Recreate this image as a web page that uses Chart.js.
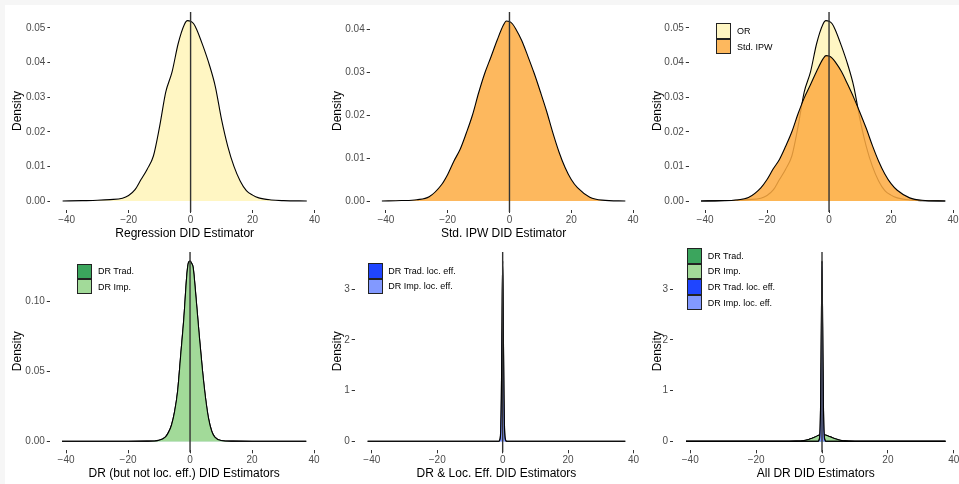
<!DOCTYPE html>
<html>
<head>
<meta charset="utf-8">
<script src="https://cdn.jsdelivr.net/npm/chart.js@4.4.1/dist/chart.umd.min.js"></script>
<style>
  html, body { margin: 0; padding: 0; }
  body { width: 959px; height: 484px; position: relative; overflow: hidden; background: #fff;
         font-family: "Liberation Sans", Arial, sans-serif; }
  .band-top { position: absolute; left: 0; top: 0; width: 959px; height: 5px; background: #f6f6f6; }
  .band-left { position: absolute; left: 0; top: 0; width: 5px; height: 484px; background: #f6f6f6; }
  canvas { position: absolute; }
  .legend { position: absolute; font-size: 9px; color: #000; }
  .legend .row { display: flex; align-items: center; }
  .legend .key { width: 15px; box-sizing: border-box; border: 1px solid #222; }
</style>
</head>
<body>
<div class="band-top"></div>
<div class="band-left"></div>

<script>
// x positions of the tick labels on every panel
const xTicks = [-40, -20, 0, 20, 40];

// regression (OR) DID estimator density
const orX = [-41.3, -35, -30, -26, -22, -20, -18, -16, -14, -12, -10, -8, -6, -4, -2, -1, 0, 1, 2, 4, 6, 8, 10, 12, 14, 16, 18, 20, 22, 26, 30, 37.5];
const orY = [0, 0.0001, 0.0002, 0.0004, 0.0008, 0.0016, 0.0032, 0.0062, 0.0092, 0.0130, 0.0215, 0.0315, 0.0372, 0.0455, 0.0510, 0.0521, 0.0519, 0.0512, 0.0495, 0.0448, 0.0395, 0.0330, 0.0235, 0.0158, 0.0100, 0.0058, 0.0030, 0.0017, 0.0009, 0.0003, 0.0001, 0];

// standardized IPW DID estimator density
const ipwX = orX;
const ipwY = [0, 0.0001, 0.0003, 0.0010, 0.0038, 0.0062, 0.0093, 0.0120, 0.0158, 0.0200, 0.0252, 0.0298, 0.0336, 0.0375, 0.0410, 0.0420, 0.0419, 0.0413, 0.0402, 0.0374, 0.0337, 0.0298, 0.0255, 0.0210, 0.0160, 0.0115, 0.0078, 0.0050, 0.0031, 0.0009, 0.0002, 0];

// DR (traditional / improved) densities
const drX = [-41.3, -30, -20, -14, -10, -8, -7, -6, -5, -4, -3, -2, -1, -0.5, 0, 0.5, 1, 2, 3, 4, 5, 6, 7, 8, 10, 14, 20, 30, 37.5];
const drTradY = [0, 0, 0, 0.0001, 0.0008, 0.0030, 0.0062, 0.0115, 0.0210, 0.0360, 0.0620, 0.0880, 0.1200, 0.1280, 0.1290, 0.1275, 0.1245, 0.1010, 0.0750, 0.0510, 0.0310, 0.0160, 0.0072, 0.0030, 0.0006, 0.0001, 0, 0, 0];
const drImpY = [0, 0, 0, 0.0001, 0.0008, 0.0030, 0.0062, 0.0115, 0.0210, 0.0360, 0.0620, 0.0880, 0.1200, 0.1280, 0.1290, 0.1275, 0.1245, 0.1010, 0.0750, 0.0510, 0.0310, 0.0160, 0.0072, 0.0030, 0.0006, 0.0001, 0, 0, 0];

// DR locally efficient densities
const locX = [-41.3, -30, -20, -10, -3, -1.2, -0.9, -0.6, -0.4, -0.2, 0, 0.2, 0.4, 0.6, 0.9, 1.2, 3, 10, 20, 30, 37.5];
const locTradY = [0, 0, 0, 0, 0, 0, 0.03, 0.22, 0.9, 2.3, 3.56, 2.3, 0.9, 0.22, 0.03, 0, 0, 0, 0, 0, 0];
const locImpY = [0, 0, 0, 0, 0, 0, 0.02, 0.18, 0.85, 2.25, 3.55, 2.25, 0.85, 0.18, 0.02, 0, 0, 0, 0, 0, 0];

// y tick labels
const yTicksA = [0, 0.01, 0.02, 0.03, 0.04, 0.05];
const yTicksB = [0, 0.01, 0.02, 0.03, 0.04];
const yTicksC = [0, 0.05, 0.10];
const yTicksD = [0, 1, 2, 3];

const FONT = '"Liberation Sans", Arial, sans-serif';
const col = {
	or: '#FFF6C3',
	ipw: 'rgba(253,171,66,0.86)',
	drTrad: '#3BA55D',
	drImp: '#A2DA99',
	locTrad: '#1F45FF',
	locImp: '#8299FF'
};

// later series are drawn on top, as in the original plot
function series(label, xs, ys, fill, idx)
{
	return {
		label: label,
		order: -idx,
		data: xs.map((x, i) => ({x: x, y: ys[i]})),
		borderColor: '#000',
		borderWidth: 1.1,
		backgroundColor: fill,
		fill: 'origin',
		pointRadius: 0,
		cubicInterpolationMode: 'monotone'
	};
}

const zeroLine = {
	id: 'zeroLine',
	afterDatasetsDraw(chart) {
		const {ctx, chartArea, scales} = chart;
		const x = scales.x.getPixelForValue(0);
		ctx.save();
		ctx.strokeStyle = '#333';
		ctx.lineWidth = 1.4;
		ctx.beginPath();
		ctx.moveTo(x, chartArea.top);
		ctx.lineTo(x, chartArea.bottom + 2);
		ctx.stroke();
		ctx.restore();
	}
};

const panels = [
	{left: 0, top: 0, w: 320, h: 242, area: {l: 50.4, r: 319, t: 12, b: 210},
		title: 'Regression DID Estimator', yTicks: yTicksA, yMin: -0.0026, yMax: 0.0546, dec: 2, titlePad: 1.5,
		sets: [series('OR', orX, orY, col.or, 0)]},
	{left: 320, top: 0, w: 320, h: 242, area: {l: 49.7, r: 317.5, t: 12, b: 210},
		title: 'Std. IPW DID Estimator', yTicks: yTicksB, yMin: -0.0021, yMax: 0.0441, dec: 2, titlePad: 1.5,
		sets: [series('Std. IPW', ipwX, ipwY, '#FDB85E', 0)]},
	{left: 640, top: 0, w: 319, h: 242, area: {l: 48.8, r: 317.5, t: 12, b: 210},
		title: '', yTicks: yTicksA, yMin: -0.0026, yMax: 0.0546, dec: 2, titlePad: 1.5,
		sets: [series('OR', orX, orY, col.or, 0), series('Std. IPW', ipwX, ipwY, col.ipw, 1)]},
	{left: 0, top: 242, w: 320, h: 242, area: {l: 49.8, r: 318.5, t: 10, b: 208.3},
		title: 'DR (but not loc. eff.) DID Estimators', yTicks: yTicksC, yMin: -0.00645, yMax: 0.1355, dec: 2, titlePad: 3,
		sets: [series('DR Trad.', drX, drTradY, col.drTrad, 0), series('DR Imp.', drX, drImpY, col.drImp, 1)]},
	{left: 320, top: 242, w: 320, h: 242, area: {l: 34.7, r: 318.2, t: 10, b: 208.3},
		title: 'DR & Loc. Eff. DID Estimators', yTicks: yTicksD, yMin: -0.178, yMax: 3.736, dec: 0, titlePad: 3,
		sets: [series('DR Trad. loc. eff.', locX, locTradY, col.locTrad, 0), series('DR Imp. loc. eff.', locX, locImpY, col.locImp, 1)]},
	{left: 640, top: 242, w: 319, h: 242, area: {l: 33, r: 318.5, t: 10, b: 208.3},
		title: 'All DR DID Estimators', yTicks: yTicksD, yMin: -0.178, yMax: 3.736, dec: 0, titlePad: 3,
		sets: [series('DR Trad.', drX, drTradY, col.drTrad, 0), series('DR Imp.', drX, drImpY, col.drImp, 1),
			series('DR Trad. loc. eff.', locX, locTradY, col.locTrad, 2), series('DR Imp. loc. eff.', locX, locImpY, col.locImp, 3)]}
];

const legends = [
	{left: 716, top: 23.3, row: 15.5, gap: 6, items: [['OR', col.or], ['Std. IPW', '#FDB85E']]},
	{left: 77, top: 263.7, row: 15.3, gap: 6, items: [['DR Trad.', col.drTrad], ['DR Imp.', col.drImp]]},
	{left: 368.3, top: 263, row: 15.6, gap: 5, items: [['DR Trad. loc. eff.', col.locTrad], ['DR Imp. loc. eff.', col.locImp]]},
	{left: 686.7, top: 248, row: 15.6, gap: 6, items: [['DR Trad.', col.drTrad], ['DR Imp.', col.drImp], ['DR Trad. loc. eff.', col.locTrad], ['DR Imp. loc. eff.', col.locImp]]}
];

function fmtX(v)
{
	return v < 0 ? '\u2212' + Math.abs(v) : String(v);
}

panels.forEach((p) => {
	const cv = document.createElement('canvas');
	cv.width = p.w;
	cv.height = p.h;
	cv.style.left = p.left + 'px';
	cv.style.top = p.top + 'px';
	document.body.appendChild(cv);
	const a = p.area;

	new Chart(cv, {
		type: 'line',
		data: {datasets: p.sets},
		plugins: [zeroLine],
		options: {
			responsive: false,
			animation: false,
			events: [],
			layout: {padding: {left: 0, top: a.t, right: p.w - a.r, bottom: 0}},
			plugins: {legend: {display: false}, tooltip: {enabled: false}},
			scales: {
				x: {
					type: 'linear',
					min: -45.24,
					max: 41.44,
					afterBuildTicks: (s) => { s.ticks = xTicks.map((v) => ({value: v})); },
					afterFit: (s) => {
						s.height = p.h - a.b;
						s.paddingLeft = 0; s.paddingRight = 0;
					},
					border: {display: false},
					grid: {drawOnChartArea: false, drawTicks: true, tickLength: 3, tickColor: '#333', tickWidth: 1},
					ticks: {
						padding: 1, color: '#4d4d4d', font: {size: 10, family: FONT},
						maxRotation: 0, autoSkip: false, callback: (v) => fmtX(v)
					},
					title: {
						display: p.title !== '', text: p.title, color: '#000',
						font: {size: 12, family: FONT}, padding: {top: 0, bottom: p.titlePad}
					}
				},
				y: {
					type: 'linear',
					min: p.yMin,
					max: p.yMax,
					afterBuildTicks: (s) => { s.ticks = p.yTicks.map((v) => ({value: v})); },
					afterFit: (s) => {
						s.width = a.l;
						s.paddingTop = 0; s.paddingBottom = 0;
					},
					border: {display: false},
					grid: {drawOnChartArea: false, drawTicks: true, tickLength: 3, tickColor: '#333', tickWidth: 1},
					ticks: {
						padding: 2, color: '#4d4d4d', font: {size: 10, family: FONT},
						autoSkip: false, callback: (v) => v.toFixed(p.dec)
					},
					title: {
						display: true, text: 'Density', color: '#000',
						font: {size: 12, family: FONT}, padding: {top: 10, bottom: 0}
					}
				}
			}
		}
	});
});

legends.forEach((lg) => {
	const box = document.createElement('div');
	box.className = 'legend';
	box.style.left = lg.left + 'px';
	box.style.top = lg.top + 'px';
	lg.items.forEach((it) => {
		const row = document.createElement('div');
		row.className = 'row';
		row.style.height = lg.row + 'px';
		const key = document.createElement('div');
		key.className = 'key';
		key.style.height = lg.row + 'px';
		key.style.background = it[1];
		key.style.marginRight = lg.gap + 'px';
		const txt = document.createElement('span');
		txt.textContent = it[0];
		row.appendChild(key);
		row.appendChild(txt);
		box.appendChild(row);
	});
	document.body.appendChild(box);
});
</script>
</body>
</html>
